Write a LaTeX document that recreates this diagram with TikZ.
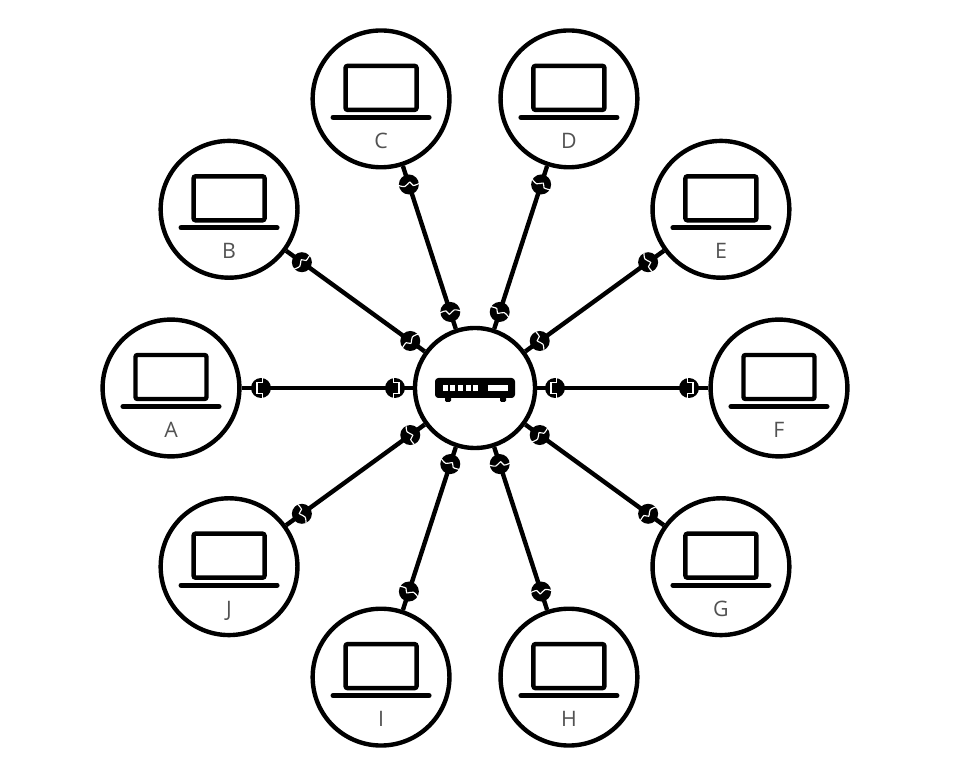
\documentclass[tikz,border=0pt]{standalone}
\usepackage{fontspec}
\setmainfont{Open Sans}
\usetikzlibrary{calc}
\tikzset{
  x=0.75pt,y=0.75pt,
  ring/.style={circle,draw=black,line width=3.3pt,fill=white,minimum size=102.6pt,inner sep=0pt},
  hubring/.style={circle,draw=black,line width=3.3pt,fill=white,minimum size=90pt,inner sep=0pt},
  conn/.style={draw=black,line width=3.3pt},
  lab/.style={anchor=base,text=black!68,font=\fontsize{16pt}{18pt}\selectfont,inner sep=0pt},
  jointdot/.style={circle,fill=black,draw=none,minimum size=15pt,inner sep=0pt},
  laptop/.pic={
    \draw[black,line width=3.3pt,rounded corners=1.5pt] (-35.5,-11) rectangle (35.5,33);
    \draw[black,line width=3.8pt,line cap=round] (-48,-18.5) -- (48,-18.5);
  },
  jigsaw/.pic={
    \draw[white,line width=0.85pt] (1.5,10) -- (1.5,5.5) -- (-4,5.5) -- (-4,-5.5) -- (1.5,-5.5) -- (1.5,-10);
  },
  wavejoint/.pic={
    \draw[white,line width=0.85pt] plot[smooth,tension=0.6] coordinates {(2.2,10.4) (2.3,3.8) (-1.9,1.7) (0.7,-4.4) (-2.3,-10.2)};
  },
  router/.pic={
    \fill[black,rounded corners=2.5pt] (-40,-10) rectangle (40,10);
    \fill[black,rounded corners=1pt] (-30,-14) rectangle (-24,-8);
    \fill[black,rounded corners=1pt] (25,-14) rectangle (31,-8);
    \foreach \sx in {-32.5,-24.8,-17.1,-9.4,-1.7}
      \fill[white] (\sx,-3) rectangle ++(5,6);
    \fill[white] (12.5,-3) rectangle (32.5,3);
  }
}
\begin{document}
\begin{tikzpicture}
\useasboundingbox (0,0) rectangle (958,772);
\node[hubring] (hub) at (475,384) {};
\pic at (hub) {router};
\foreach \n/\ang/\jt in {A/180/jigsaw,B/144/wavejoint,C/108/wavejoint,D/72/wavejoint,E/36/wavejoint,F/0/jigsaw,G/-36/wavejoint,H/-72/wavejoint,I/-108/wavejoint,J/-144/wavejoint}{
  \node[ring] (n\n) at ($(hub)+(\ang:304)$) {};
  \draw[conn] (hub) -- (n\n);
  \node[jointdot] (in\n) at ($(hub)+(\ang:80)$) {};
  \node[jointdot] (out\n) at ($(hub)+(\ang:214)$) {};
  \pic[rotate=\ang] at (in\n) {\jt};
  \pic[rotate=\ang+180] at (out\n) {\jt};
  \pic at (n\n) {laptop};
  \node[lab] (l\n) at ($(n\n)+(0,-49.5)$) {\n};
}
\end{tikzpicture}
\end{document}
